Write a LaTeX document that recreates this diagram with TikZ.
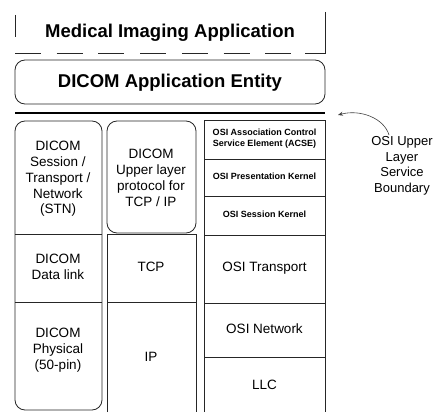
\documentclass[tikz,border=0pt]{standalone}
\usepackage{fontspec}
\setmainfont{Liberation Sans}
\usetikzlibrary{arrows.meta}
\begin{document}
\begin{tikzpicture}[x=1pt,y=-1pt,
  frame/.style={draw=black!85,line width=0.8pt},
  bigtxt/.style={font=\fontsize{18.5}{22}\selectfont\bfseries},
  midtxt/.style={font=\fontsize{13.5}{15.8}\selectfont,align=center,inner sep=0pt},
  tinytxt/.style={font=\fontsize{9}{10.5}\selectfont\bfseries,align=center,inner sep=0pt},
  sidetxt/.style={font=\fontsize{13}{15.5}\selectfont,align=center,inner sep=0pt}]
\useasboundingbox (0,0) rectangle (436,412);
% Medical imaging application (open dashed frame)
\draw[frame] (15,15) -- (15,37);
\draw[frame] (325,12) -- (325,53) -- (305,53);
\draw[frame,dash pattern=on 26pt off 15.7pt] (15,53) -- (305,53);
\node[bigtxt] (mia) at (170,33) {Medical Imaging Application};
% DICOM application entity
\draw[frame,rounded corners=10pt] (15,60) rectangle (325,104);
\node[bigtxt] (ae) at (170,83) {DICOM Application Entity};
% service boundary line
\draw[line width=2.6pt] (15,113) -- (325,113);
% left column
\draw[frame,rounded corners=10pt] (15,121) rectangle (102,410);
\draw[frame] (15,234) -- (102,234);
\draw[frame] (15,302) -- (102,302);
\node[midtxt] (stn) at (58,179) {DICOM\\Session /\\Transport /\\Network\\(STN)};
\node[midtxt] (dl) at (58,267) {DICOM\\Data link};
\node[midtxt] (phy) at (58,350) {DICOM\\Physical\\(50-pin)};
% middle column
\draw[frame,rounded corners=10pt] (107,121) rectangle (196,233);
\draw[frame] (107,412) -- (107,234) -- (196,234) -- (196,412);
\draw[frame] (107,302) -- (196,302);
\node[midtxt] (ul) at (151,178) {DICOM\\Upper layer\\protocol for\\TCP / IP};
\node[midtxt] (tcp) at (151,267) {TCP};
\node[midtxt] (ip) at (151,357) {IP};
% right column
\draw[frame] (204,412) -- (204,120) -- (325,120) -- (325,412);
\foreach \yy in {159,196,235,303,357} \draw[frame] (204,\yy) -- (325,\yy);
\node[tinytxt] (acse) at (264.5,138.5) {OSI Association Control\\Service Element (ACSE)};
\node[tinytxt] (pres) at (264.5,176) {OSI Presentation Kernel};
\node[tinytxt] (sess) at (264.5,214) {OSI Session Kernel};
\node[midtxt] (otr) at (264.5,268) {OSI Transport};
\node[midtxt] (onw) at (264.5,329) {OSI Network};
\node[midtxt] (llc) at (264.5,385) {LLC};
% side label and arrow
\node[sidetxt] (osib) at (402,166) {OSI Upper\\Layer\\Service\\Boundary};
\coordinate (bnd) at (338,115);
\draw[black!75,line width=0.6pt,-{Stealth[length=5pt,width=4pt]}] (389,135) .. controls (384,118) and (360,109) .. (bnd);
\end{tikzpicture}
\end{document}
